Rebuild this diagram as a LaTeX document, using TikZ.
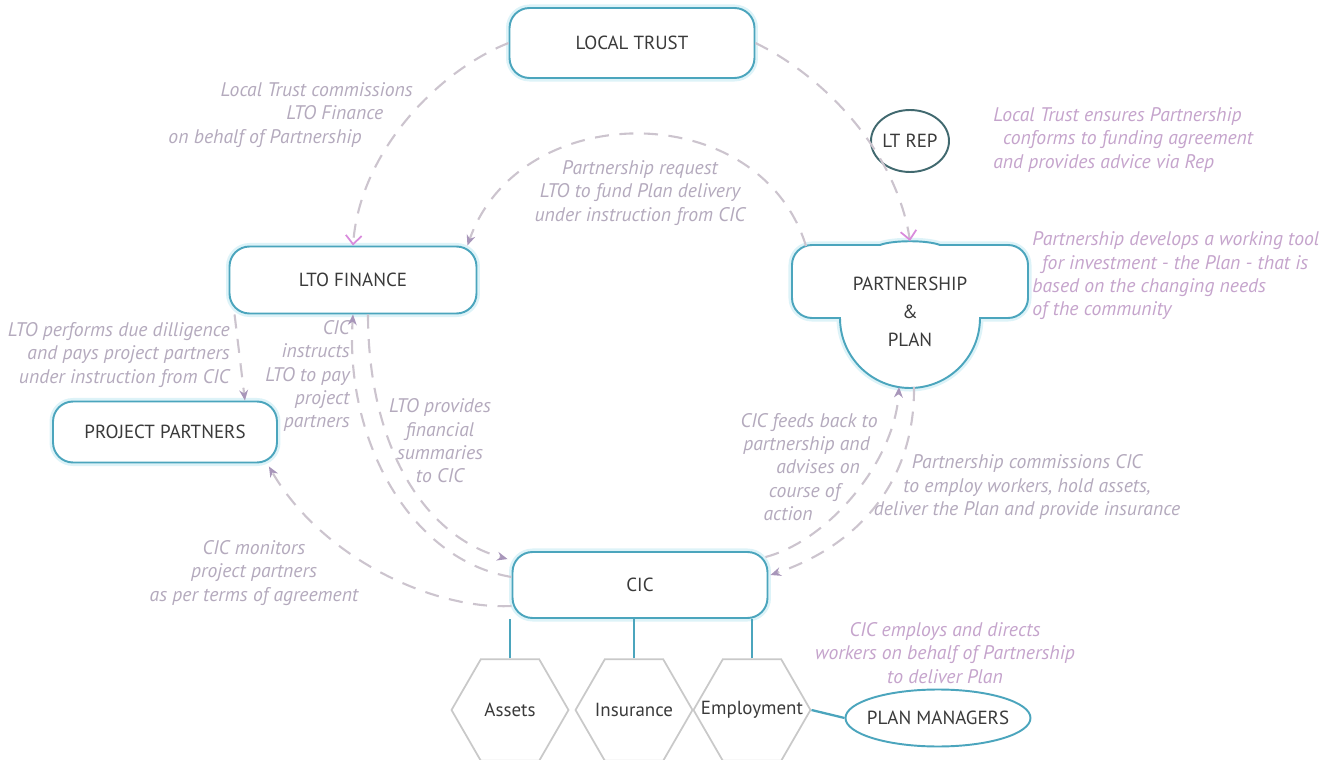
\documentclass[tikz,border=0pt]{standalone}
\usepackage{fontspec}
\setmainfont{PT Sans}
\usetikzlibrary{shapes,arrows.meta,positioning,calc}

\definecolor{tealline}{HTML}{4BA5BD}
\definecolor{glow}{HTML}{DDF3F8}
\definecolor{repline}{HTML}{41696F}
\definecolor{hexline}{HTML}{C9C9C9}
\definecolor{dashgray}{HTML}{CCC4CE}
\definecolor{notegray}{HTML}{B4AABD}
\definecolor{notepink}{HTML}{C5A4CC}
\definecolor{tippink}{HTML}{D98BDC}
\definecolor{tipgray}{HTML}{A896BA}
\definecolor{labeltext}{HTML}{3A3A3A}

\begin{document}
\begin{tikzpicture}[
    x=0.02cm, y=-0.02cm,
    box/.style={rectangle, rounded corners=0.4cm, draw=tealline, line width=1.1pt, fill=white,
        preaction={draw=glow, line width=4pt}, text=labeltext, font=\fontsize{10.8}{12}\selectfont, align=center},
    cloudbox/.style={draw=tealline, line width=1.1pt, fill=white, preaction={draw=glow, line width=4pt}},
    oval/.style={ellipse, draw=tealline, line width=1.1pt, fill=white, text=labeltext,
        font=\fontsize{10.8}{12}\selectfont, inner sep=0pt},
    hexa/.style={regular polygon, regular polygon sides=6, minimum size=2.34cm, inner sep=0pt,
        draw=hexline, line width=1pt},
    hextext/.style={text=labeltext, font=\fontsize{10.8}{12}\selectfont},
    note/.style={text=notegray, font=\fontsize{11.2}{13.3}\selectfont\itshape, inner sep=0pt, align=center},
    flow/.style={draw=dashgray, line width=1.2pt, dash pattern=on 8pt off 6pt},
    pinkarrow/.style={flow, -{Straight Barb[length=5pt, width=9pt, color=tippink, line width=1pt]}},
    grayarrow/.style={flow, -{Stealth[length=6pt, width=5pt, color=tipgray]}},
    tie/.style={draw=tealline, line width=1.3pt}
]
\useasboundingbox (0,0) rectangle (1330,760);

% main bodies
\node[box, minimum width=4.9cm, minimum height=1.4cm] (trust) at (632,43) {LOCAL TRUST};
\node[oval, draw=repline, minimum width=1.56cm, minimum height=1.24cm] (rep) at (910,141) {LT REP};
\node[box, minimum width=4.94cm, minimum height=1.34cm] (lto) at (353,280) {LTO FINANCE};
\node[box, minimum width=4.48cm, minimum height=1.22cm] (project) at (165,432) {PROJECT PARTNERS};
\node[box, minimum width=5.1cm, minimum height=1.32cm] (cic) at (640,585) {CIC};

% partnership outline
\draw[cloudbox] (812,245) -- (880,245) .. controls (893,240) and (927,240) .. (940,245) -- (1008,245)
    arc(-90:0:20) -- (1028,298) arc(0:90:20) -- (980,318) arc(0:180:70) -- (812,318)
    arc(90:180:20) -- (792,265) arc(180:270:20) -- cycle;
\node[text=labeltext, font=\fontsize{10.8}{16}\selectfont, align=center] (partner) at (910,312) {PARTNERSHIP\\\&\\PLAN};
\coordinate (plan top) at (910,241);
\coordinate (plan corner) at (806,246);
\coordinate (plan base l) at (899,387);
\coordinate (plan base r) at (914,387);

% what CIC holds
\node[hexa, label={[hextext]center:Assets}] (assets) at (510,710) {};
\node[hexa, label={[hextext]center:Insurance}] (insurance) at (634,710) {};
\node[hexa, label={[hextext]center:Employment}] (employ) at (752,710) {};
\node[oval, inner xsep=-4pt, minimum width=3.7cm, minimum height=1.14cm] (managers) at (938,718) {PLAN MANAGERS};

\draw[tie] (assets.north) -- (assets.north |- cic.south);
\draw[tie] (insurance.north) -- (insurance.north |- cic.south);
\draw[tie] (employ.north) -- (employ.north |- cic.south);
\draw[tie] (employ.east) -- (managers.west);

% dashed flows
\draw[pinkarrow] (trust.west) .. controls (440,70) and (360,150) .. (lto.north);
\draw[pinkarrow] (trust.east) .. controls (822,75) and (896,150) .. (plan top);
\draw[grayarrow] (plan corner) .. controls (760,97) and (520,97) .. ($(lto.north east)+(-10,0)$);
\draw[grayarrow] ($(cic.west)+(0,-8)$) .. controls (410,560) and (345,440) .. (lto.south);
\draw[grayarrow] ($(lto.south)+(15,0)$) .. controls (368,440) and (420,535) .. ($(cic.north west)+(-4,8)$);
\draw[grayarrow] ($(lto.south west)+(6,0)$) -- ($(project.north east)+(-33,0)$);
\draw[grayarrow] ($(cic.west)+(0,21)$) .. controls (430,610) and (320,555) .. ($(project.south east)+(-9,3)$);
\draw[grayarrow] ($(cic.north east)+(-3,6)$) .. controls (830,540) and (895,460) .. (plan base l);
\draw[grayarrow] (plan base r) .. controls (915,480) and (860,545) .. ($(cic.east)+(2,-10)$);

% annotations
\node[note, align=right, anchor=east] (n trust) at (413,115) {Local Trust commissions\\LTO Finance\hbox to 1.5em{}\\on behalf of Partnership\hbox to 2.6em{}};
\node[note, text=notepink, align=left, anchor=west] (n rep) at (993,140) {Local Trust ensures Partnership\\\hspace*{0.5em}conforms to funding agreement\\and provides advice via Rep};
\node[note] (n request) at (640,193) {Partnership request\\LTO to fund Plan delivery\\under instruction from CIC};
\node[note, text=notepink, align=left, anchor=west] (n plan) at (1032,276) {Partnership develops a working tool\\\hspace*{0.5em}for investment - the Plan - that is\\based on the changing needs\\of the community};
\node[note, align=right, anchor=east] (n diligence) at (230,355) {LTO performs due dilligence\\and pays project partners\\under instruction from CIC};
\node[note, align=right, anchor=east] (n instruct) at (350,376) {CIC\\instructs\\LTO to pay\\project\\partners};
\node[note] (n summary) at (440,441) {LTO provides\\financial\\summaries\\to CIC};
\node[note, align=right, anchor=east] (n feedback) at (878,467) {CIC feeds back to\\partnership and\hbox to 0.4em{}\\advises on\hbox to 0.9em{}\\course of\hbox to 1.9em{}\\action\hbox to 3.3em{}};
\node[note] (n commission) at (1027,487) {Partnership commissions CIC\\to employ workers, hold assets,\\deliver the Plan and provide insurance};
\node[note] (n monitor) at (254,573) {CIC monitors\\project partners\\as per terms of agreement};
\node[note, text=notepink] (n employ) at (945,653) {CIC employs and directs\\workers on behalf of Partnership\\to deliver Plan};

\end{tikzpicture}
\end{document}
